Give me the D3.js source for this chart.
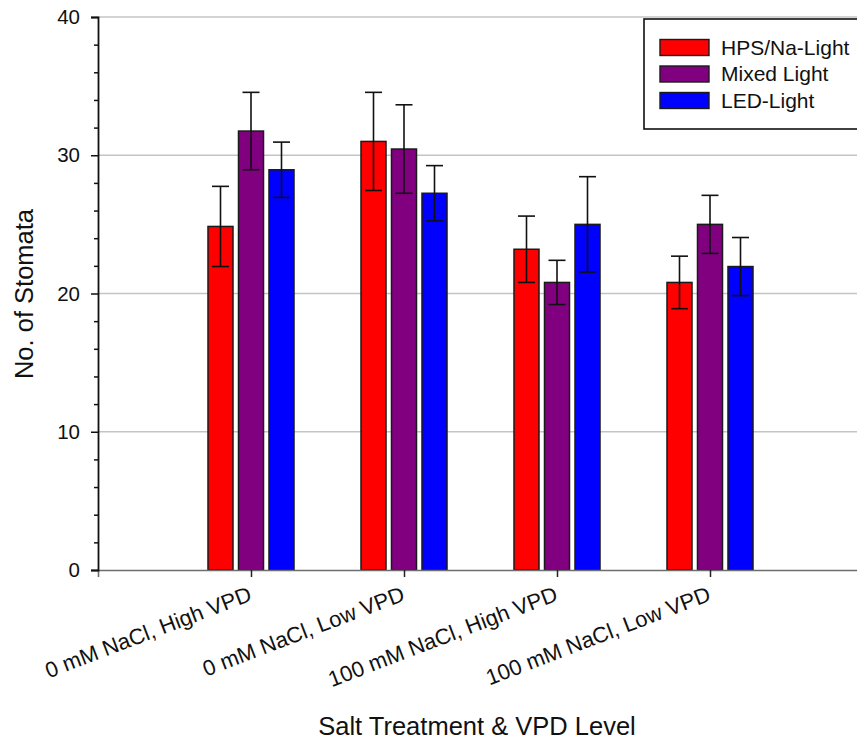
<!DOCTYPE html>
<html>
<head>
<meta charset="utf-8">
<script src="https://cdn.jsdelivr.net/npm/d3@7"></script>
<style>
  html, body { margin: 0; padding: 0; background: #fff; }
  svg { display: block; font-family: "Liberation Sans", Arial, sans-serif; }
</style>
</head>
<body>
<svg id="chart" width="857" height="742"></svg>
<script>
// Treatment groups along the x axis
const categories = [
  "0 mM NaCl, High VPD",
  "0 mM NaCl, Low VPD",
  "100 mM NaCl, High VPD",
  "100 mM NaCl, Low VPD"
];
// Light sources (one bar per source in each group)
const seriesNames = ["HPS/Na-Light", "Mixed Light", "LED-Light"];
const seriesColors = ["#ff0000", "#800080", "#0000ff"];

// Mean stomata counts and their error (±) per light source
const hpsMeans   = [24.85, 31.0, 23.2, 20.8];
const hpsErr     = [2.9, 3.55, 2.4, 1.9];
const mixedMeans = [31.75, 30.45, 20.8, 25.0];
const mixedErr   = [2.8, 3.2, 1.6, 2.1];
const ledMeans   = [28.95, 27.25, 25.0, 21.95];
const ledErr     = [2.0, 2.0, 3.45, 2.1];

const yMajorTicks = [0, 10, 20, 30, 40];
const yMinorTicks = [2, 4, 6, 8, 12, 14, 16, 18, 22, 24, 26, 28, 32, 34, 36, 38];

const seriesData = [
  { name: seriesNames[0], color: seriesColors[0], means: hpsMeans, errs: hpsErr },
  { name: seriesNames[1], color: seriesColors[1], means: mixedMeans, errs: mixedErr },
  { name: seriesNames[2], color: seriesColors[2], means: ledMeans, errs: ledErr }
];

const svg = d3.select("#chart");
const plotLeft = 98, plotBottom = 570, plotTop = 17;

// Groups sit at positions 1..4 on a 0..5 axis
const x = d3.scaleLinear().domain([0, 5]).range([plotLeft, 863]);
const y = d3.scaleLinear().domain([0, 40]).range([plotBottom, plotTop]);
const inner = d3.scaleBand().domain(seriesNames)
  .range([-45.75, 45.75]).paddingInner(0.18).paddingOuter(0.09);

// Horizontal gridlines
svg.append("g").selectAll("line")
  .data(yMajorTicks.filter(v => v > 0))
  .join("line")
  .attr("x1", plotLeft).attr("x2", 857)
  .attr("y1", d => y(d)).attr("y2", d => y(d))
  .attr("stroke", "#c4c4c4").attr("stroke-width", 1.5);

// Bars
const bars = svg.append("g");
seriesData.forEach(s => {
  bars.append("g").selectAll("rect")
    .data(categories.map((c, i) => ({ i, v: s.means[i], e: s.errs[i] })))
    .join("rect")
    .attr("x", d => x(d.i + 1) + inner(s.name))
    .attr("width", inner.bandwidth())
    .attr("y", d => y(d.v))
    .attr("height", d => y(0) - y(d.v))
    .attr("fill", s.color)
    .attr("stroke", "#1a1a1a").attr("stroke-width", 1.5);
});

// Error bars (both directions, capped)
const capHalf = 8.5;
seriesData.forEach(s => {
  const g = svg.append("g").attr("stroke", "#111").attr("stroke-width", 1.6);
  categories.forEach((c, i) => {
    const cx = x(i + 1) + inner(s.name) + inner.bandwidth() / 2;
    const hi = y(s.means[i] + s.errs[i]);
    const lo = y(s.means[i] - s.errs[i]);
    g.append("line").attr("x1", cx).attr("x2", cx).attr("y1", hi).attr("y2", lo);
    g.append("line").attr("x1", cx - capHalf).attr("x2", cx + capHalf).attr("y1", hi).attr("y2", hi);
    g.append("line").attr("x1", cx - capHalf).attr("x2", cx + capHalf).attr("y1", lo).attr("y2", lo);
  });
});

// X axis
const xAxis = d3.axisBottom(x).tickValues([1, 2, 3, 4]).tickSize(7).tickFormat("");
const gx = svg.append("g").attr("transform", `translate(0,${plotBottom})`).call(xAxis);
gx.select(".domain").attr("stroke", "#6e6e6e").attr("stroke-width", 1.6);
gx.selectAll(".tick line").attr("stroke", "#222").attr("stroke-width", 1.5);

// Rotated category labels
svg.append("g").selectAll("text")
  .data(categories)
  .join("text")
  .attr("transform", (d, i) => `translate(${x(i + 1) + 2},${plotBottom + 30}) rotate(-21)`)
  .attr("text-anchor", "end")
  .attr("font-size", 22)
  .attr("fill", "#111")
  .text(d => d);

// Y axis: major ticks with labels, minor ticks without
const yAxis = d3.axisLeft(y).tickValues(yMajorTicks).tickSize(7).tickPadding(11);
const gy = svg.append("g").attr("transform", `translate(${plotLeft},0)`).call(yAxis);
gy.select(".domain").attr("stroke", "#111").attr("stroke-width", 1.8);
gy.selectAll(".tick line").attr("stroke", "#111").attr("stroke-width", 1.5);
gy.selectAll(".tick text").attr("font-size", 20.5).attr("fill", "#111")
  .attr("font-family", "Liberation Sans, Arial, sans-serif");

const gyMinor = svg.append("g").attr("transform", `translate(${plotLeft},0)`)
  .call(d3.axisLeft(y).tickValues(yMinorTicks).tickSize(4).tickFormat(""));
gyMinor.select(".domain").remove();
gyMinor.selectAll(".tick line").attr("stroke", "#111").attr("stroke-width", 1.5);

// Axis titles
svg.append("text")
  .attr("transform", "translate(33,294) rotate(-90)")
  .attr("text-anchor", "middle")
  .attr("font-size", 25.5)
  .attr("fill", "#111")
  .text("No. of Stomata");

svg.append("text")
  .attr("x", 477).attr("y", 735)
  .attr("text-anchor", "middle")
  .attr("font-size", 25.5)
  .attr("fill", "#111")
  .text("Salt Treatment & VPD Level");

// Legend
const legend = svg.append("g");
legend.append("rect")
  .attr("x", 644).attr("y", 19).attr("width", 230).attr("height", 110)
  .attr("fill", "#fff").attr("stroke", "#111").attr("stroke-width", 1.6);
seriesData.forEach((s, i) => {
  const yy = 39.5 + i * 26.5;
  legend.append("rect")
    .attr("x", 660).attr("y", yy).attr("width", 49).attr("height", 16)
    .attr("fill", s.color).attr("stroke", "#1a1a1a").attr("stroke-width", 1.4);
  legend.append("text")
    .attr("x", 721).attr("y", yy + 15)
    .attr("font-size", 21)
    .attr("fill", "#111")
    .text(s.name);
});
</script>
</body>
</html>
